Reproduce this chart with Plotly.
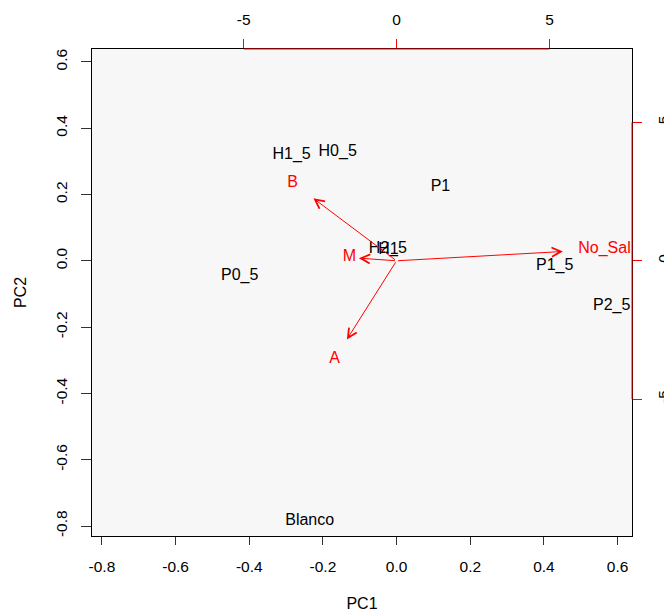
import plotly.graph_objects as go

# ---- data ----
obs_labels = ["H1_5", "H0_5", "P1", "H2_5", "H1", "P0_5", "P1_5", "P2_5", "Blanco"]
obs_pc1 = [-0.285, -0.160, 0.119, -0.024, -0.022, -0.426, 0.429, 0.584, -0.236]
obs_pc2 = [0.320, 0.329, 0.223, 0.036, 0.034, -0.045, -0.015, -0.136, -0.785]

var_labels = ["B", "M", "A", "No_Sal"]
var_pc1 = [-3.40, -1.54, -2.03, 6.80]
var_pc2 = [2.82, 0.12, -3.55, 0.42]

score_ticks = [-0.8, -0.6, -0.4, -0.2, 0.0, 0.2, 0.4, 0.6]
load_ticks = [-5, 0, 5]

score_xrange = [-0.827, 0.639]
score_yrange = [-0.830, 0.639]
load_xrange = [-9.96, 7.70]
load_yrange = [-9.94, 7.65]

ARROW_SCALE = 0.8  # R biplot draws arrows to 0.8 * loading

FONT = "Liberation Sans, Arial, sans-serif"
RED = "#ff0000"

fig = go.Figure()

fig.add_trace(go.Scatter(
    x=obs_pc1, y=obs_pc2, text=obs_labels, mode="text",
    textposition="middle center",
    textfont=dict(family=FONT, size=16, color="black"),
    xaxis="x", yaxis="y", cliponaxis=True, showlegend=False, hoverinfo="skip",
))

fig.add_trace(go.Scatter(
    x=var_pc1, y=var_pc2, text=var_labels, mode="text",
    textposition="middle center",
    textfont=dict(family=FONT, size=16, color=RED),
    xaxis="x2", yaxis="y2", cliponaxis=True, showlegend=False, hoverinfo="skip",
))

annotations = []
for lx, ly in zip(var_pc1, var_pc2):
    annotations.append(dict(
        x=ARROW_SCALE * lx, y=ARROW_SCALE * ly, ax=0, ay=0,
        xref="x2", yref="y2", axref="x2", ayref="y2",
        text="", showarrow=True, arrowhead=5, arrowsize=1.8,
        arrowwidth=1, arrowcolor=RED, standoff=0, startstandoff=0,
    ))

shapes = [
    dict(type="line", xref="x2", yref="paper", x0=load_ticks[0], x1=load_ticks[-1],
         y0=1, y1=1, line=dict(color=RED, width=1)),
    dict(type="line", xref="paper", yref="y2", x0=1, x1=1, y0=load_ticks[0],
         y1=load_ticks[-1], line=dict(color=RED, width=1)),
]

tickfont = dict(family=FONT, size=15.5, color="black")

# the page adds an 8px body margin, so the figure is sized to fit the window
fig.update_layout(
    width=664, height=606,
    margin=dict(l=84, r=40, t=41, b=78),
    paper_bgcolor="white",
    plot_bgcolor="#f7f7f7",
    font=dict(family=FONT, size=15, color="black"),
    annotations=annotations,
    shapes=shapes,
    xaxis=dict(
        range=score_xrange, tickvals=score_ticks,
        ticktext=[f"{v:.1f}" for v in score_ticks],
        ticks="outside", ticklen=8, tickcolor="#333", tickwidth=1,
        showline=True, mirror=True, linecolor="black", linewidth=1.3,
        showgrid=False, zeroline=False, tickfont=tickfont,
        ticklabelstandoff=8, automargin=False,
        title=dict(text="PC1", font=dict(family=FONT, size=16), standoff=24),
    ),
    yaxis=dict(
        range=score_yrange, tickvals=score_ticks,
        ticktext=[f"{v:.1f}" for v in score_ticks],
        ticks="outside", ticklen=10, tickcolor="#333", tickwidth=1,
        showline=True, mirror=True, linecolor="black", linewidth=1.3,
        showgrid=False, zeroline=False, tickfont=tickfont, tickangle=-90,
        ticklabelstandoff=8, automargin=False,
        title=dict(text="PC2", font=dict(family=FONT, size=16), standoff=22),
    ),
    xaxis2=dict(
        range=load_xrange, overlaying="x", side="top", anchor="y",
        tickvals=load_ticks, ticktext=[str(v) for v in load_ticks],
        ticks="outside", ticklen=9, tickcolor=RED, tickwidth=1,
        showline=False, showgrid=False, zeroline=False, tickfont=tickfont,
        ticklabelstandoff=8, automargin=False,
    ),
    yaxis2=dict(
        range=load_yrange, overlaying="y", side="right", anchor="x",
        tickvals=load_ticks, ticktext=[str(v) for v in load_ticks],
        ticks="outside", ticklen=9, tickcolor=RED, tickwidth=1,
        showline=False, showgrid=False, zeroline=False, tickfont=tickfont,
        tickangle=-90, ticklabelstandoff=8, automargin=False,
    ),
)

fig.write_html("out.html")
